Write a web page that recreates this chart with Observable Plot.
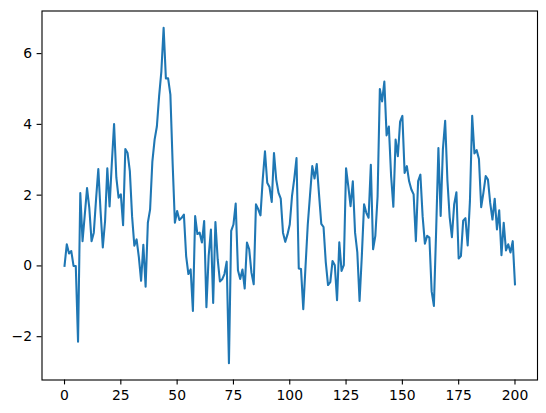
<!DOCTYPE html>
<html>
<head>
<meta charset="utf-8">
<script src="https://cdn.jsdelivr.net/npm/d3@7"></script>
<script src="https://cdn.jsdelivr.net/npm/@observablehq/plot@0.6"></script>
<style>
  html, body { margin: 0; padding: 0; background: #fff; }
</style>
</head>
<body>
<div id="chart"></div>
<script>
const values = [
  0, 0.61, 0.35, 0.42, 0, 0, -2.14, 2.06, 0.7, 1.45,
  2.2, 1.64, 0.7, 0.94, 1.88, 2.74, 1.55, 0.52, 1.27, 2.76,
  1.68, 2.9, 4.01, 2.5, 1.93, 2.02, 1.15, 3.3, 3.19, 2.68,
  1.4, 0.57, 0.75, 0.25, -0.42, 0.6, -0.59, 1.22, 1.6, 2.95,
  3.57, 3.94, 4.8, 5.5, 6.73, 5.3, 5.3, 4.84, 2.9, 1.22,
  1.55, 1.3, 1.36, 1.45, 0.28, -0.23, -0.1, -1.27, 1.41, 0.9,
  0.94, 0.66, 1.27, -1.17, 0.28, 1.03, -1.05, 1.24, 0.19, -0.44,
  -0.38, -0.23, 0.12, -2.75, 0.99, 1.17, 1.76, -0.12, -0.37, -0.1,
  -0.64, 0.66, 0.47, -0.19, -0.52, 1.74, 1.6, 1.43, 2.44, 3.24,
  2.35, 2.23, 1.81, 3.19, 2.44, 2.07, 1.9, 0.94, 0.68, 0.89,
  1.17, 1.97, 2.46, 3.05, -0.07, -0.09, -1.22, -0.02, 1.17, 2.0,
  2.82, 2.47, 2.88, 2.02, 1.19, 1.1, 0.1, -0.54, -0.46, 0.14,
  0.02, -0.97, 0.67, -0.14, 0.02, 2.76, 2.25, 1.69, 2.39, 0.94,
  0.38, -0.99, 0.28, 1.74, 1.5, 1.36, 2.86, 0.47, 0.85, 1.97,
  5.0, 4.65, 5.21, 3.69, 3.94, 2.54, 1.67, 3.57, 3.1, 4.08,
  4.24, 2.63, 2.82, 2.39, 2.16, 2.02, 0.7, 2.4, 2.58, 1.4,
  0.63, 0.85, 0.8, -0.72, -1.13, 1.0, 3.33, 1.41, 3.3, 4.1,
  2.42, 1.38, 0.81, 1.74, 2.08, 0.21, 0.28, 1.28, 1.35, 0.58,
  1.83, 4.24, 3.18, 3.27, 3.02, 1.66, 2.07, 2.54, 2.44, 1.78,
  1.31, 1.9, 1.03, 1.57, 0.3, 1.22, 0.44, 0.61, 0.38, 0.7,
  -0.52
];
const xTicks = [0, 25, 50, 75, 100, 125, 150, 175, 200];
const yTicks = [-2, 0, 2, 4, 6];

const data = values.map((v, i) => ({x: i, y: v}));

const n = values.length - 1;
const xPad = n * 0.05;
const yMin = d3.min(values), yMax = d3.max(values);
const yPad = (yMax - yMin) * 0.05;

const fmt = d3.format("d");

const chart = Plot.plot({
  width: 546,
  height: 413,
  marginLeft: 41.5,
  marginRight: 9,
  marginTop: 10.5,
  marginBottom: 33.5,
  style: {fontFamily: "DejaVu Sans", fontSize: "13.9px", color: "black", background: "white"},
  x: {domain: [-xPad, n + xPad]},
  y: {domain: [yMin - yPad, yMax + yPad]},
  marks: [
    Plot.line(data, {x: "x", y: "y", stroke: "#1f77b4", strokeWidth: 2.08, strokeLinejoin: "round", strokeLinecap: "square"}),
    Plot.frame({stroke: "black", strokeWidth: 1.11}),
    Plot.axisX({ticks: xTicks, tickSize: 4.9, tickPadding: 5.5, tickFormat: fmt, label: null, fontSize: 13.9, strokeWidth: 1.11}),
    Plot.axisY({ticks: yTicks, tickSize: 4.9, tickPadding: 5, tickFormat: fmt, label: null, fontSize: 13.9, strokeWidth: 1.11})
  ]
});
document.getElementById("chart").appendChild(chart);
</script>
</body>
</html>
